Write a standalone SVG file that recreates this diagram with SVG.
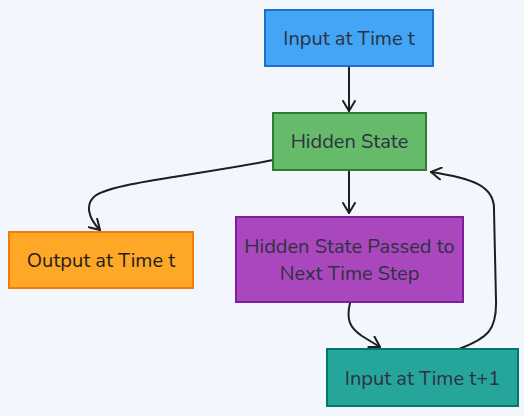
<svg xmlns="http://www.w3.org/2000/svg" width="524" height="416" viewBox="0 0 524 416">
<defs>
<marker id="ah" markerWidth="14" markerHeight="14" refX="11" refY="7" orient="auto" markerUnits="userSpaceOnUse">
<path d="M1,1 L11,7 L1,13" fill="none" stroke="#1e1e1e" stroke-width="2" stroke-linecap="round" stroke-linejoin="round"/>
</marker>
</defs>
<style>
text{font-family:"Nunito","Noto Sans","Open Sans",sans-serif;font-size:20px;text-anchor:middle;dominant-baseline:central;fill:#2d3142}
.n rect{stroke-width:2}
.c path{fill:none;stroke:#1e1e1e;stroke-width:2;stroke-linecap:round;marker-end:url(#ah)}
</style>
<rect width="524" height="416" fill="#f3f7fd"/>
<g class="c" id="connectors">
<path d="M349,67 L349,111"/>
<path d="M273,160 C200,175 115,182 95,196 C85,204 88,218 100,230"/>
<path d="M349,171 L349,213"/>
<path d="M350,303 C346,320 350,328 362,336 C370,341 375,344 380,347"/>
<path d="M459,349 C488,338 497,330 496,300 L494,210 C495,185 470,178 431,172"/>
</g>
<g class="n" id="input-t">
<rect x="265" y="10" width="168" height="56" fill="#42a5f5" stroke="#1e6fc9"/>
<text x="349" y="38">Input at Time t</text>
</g>
<g class="n" id="hidden-state">
<rect x="273" y="113" width="153" height="57" fill="#66bb6a" stroke="#2e7d32"/>
<text x="349.5" y="141.5">Hidden State</text>
</g>
<g class="n" id="output-t">
<rect x="9" y="232" width="184" height="56" fill="#ffa726" stroke="#f57c00"/>
<text x="101" y="260" style="fill:#1e1e1e">Output at Time t</text>
</g>
<g class="n" id="hidden-passed">
<rect x="236" y="217" width="227" height="85" fill="#ab47bc" stroke="#7b1fa2"/>
<text x="349.5" y="246">Hidden State Passed to</text>
<text x="349.5" y="273">Next Time Step</text>
</g>
<g class="n" id="input-t1">
<rect x="327" y="349" width="191" height="57" fill="#26a69a" stroke="#00796b"/>
<text x="422.5" y="378">Input at Time t+1</text>
</g>
</svg>
